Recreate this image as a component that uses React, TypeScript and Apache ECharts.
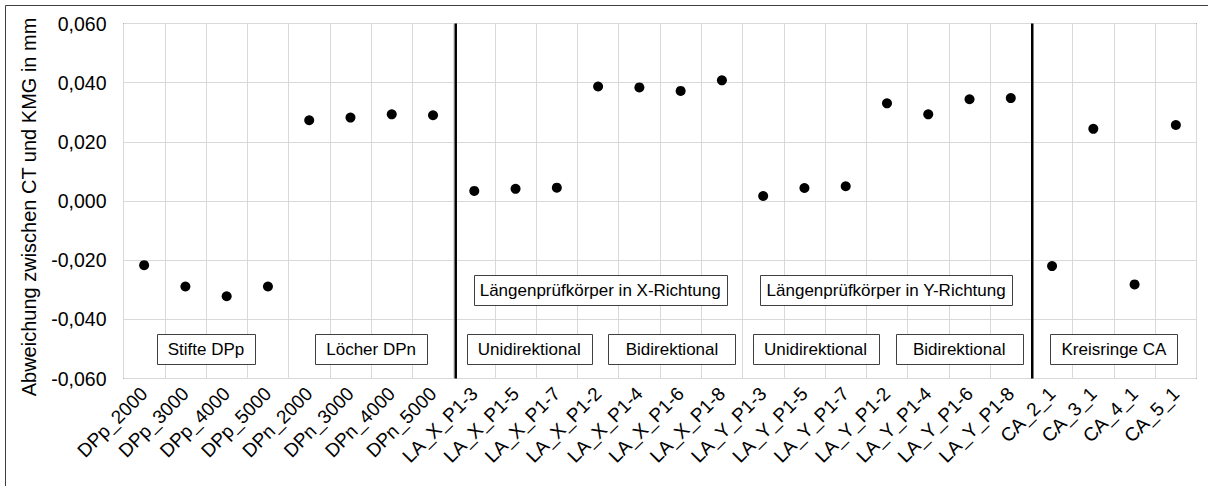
import React, { useEffect, useRef } from "react";
import * as echarts from "echarts";

// Measurement points (x axis categories)
const categories = [
  "DPp_2000", "DPp_3000", "DPp_4000", "DPp_5000",
  "DPn_2000", "DPn_3000", "DPn_4000", "DPn_5000",
  "LA_X_P1-3", "LA_X_P1-5", "LA_X_P1-7",
  "LA_X_P1-2", "LA_X_P1-4", "LA_X_P1-6", "LA_X_P1-8",
  "LA_Y_P1-3", "LA_Y_P1-5", "LA_Y_P1-7",
  "LA_Y_P1-2", "LA_Y_P1-4", "LA_Y_P1-6", "LA_Y_P1-8",
  "CA_2_1", "CA_3_1", "CA_4_1", "CA_5_1",
];

// Deviation between CT and CMM in mm
const deviations = [
  -0.0217, -0.0289, -0.0322, -0.0289,
  0.0273, 0.0282, 0.0293, 0.029,
  0.0034, 0.0041, 0.0045,
  0.0387, 0.0384, 0.0372, 0.0408,
  0.0017, 0.0044, 0.005,
  0.033, 0.0293, 0.0344, 0.0348,
  -0.022, 0.0244, -0.0282, 0.0257,
];

// Category counts after which a new specimen group starts
const groupBoundaries = [8.05, 22.02];

// Group captions, anchored in axis units (x: category slots, y: mm)
const captions = [
  { text: "Stifte DPp", x: 2, y: -0.05, w: 98 },
  { text: "Löcher DPn", x: 6, y: -0.05, w: 112 },
  { text: "Längenprüfkörper in X-Richtung", x: 11.55, y: -0.03, w: 253 },
  { text: "Unidirektional", x: 9.83, y: -0.05, w: 125 },
  { text: "Bidirektional", x: 13.29, y: -0.05, w: 127 },
  { text: "Längenprüfkörper in Y-Richtung", x: 18.48, y: -0.03, w: 252 },
  { text: "Unidirektional", x: 16.77, y: -0.05, w: 126 },
  { text: "Bidirektional", x: 20.25, y: -0.05, w: 127 },
  { text: "Kreisringe CA", x: 24, y: -0.05, w: 127 },
];

const FONT = "'Liberation Sans', Arial, sans-serif";

export default function App() {
  const ref = useRef<HTMLDivElement>(null);

  useEffect(() => {
    if (!ref.current) return;
    const chart = echarts.init(ref.current, null, { renderer: "svg" });

    const fmt = (v: number) =>
      (Math.abs(v) < 1e-9 ? 0 : v).toFixed(3).replace(".", ",");

    chart.setOption({
      animation: false,
      backgroundColor: "#fff",
      textStyle: { fontFamily: FONT },
      grid: {
        left: 123.5,
        top: 23.5,
        right: 11.5,
        bottom: 107.5,
        show: true,
        borderColor: "#000",
        borderWidth: 1,
        backgroundColor: "transparent",
      },
      xAxis: [
        {
          type: "category",
          data: categories,
          boundaryGap: true,
          axisLine: { show: false },
          axisTick: { show: false },
          splitLine: {
            show: true,
            interval: 0,
            lineStyle: { color: "#d9d9d9", width: 1 },
          },
          axisLabel: {
            interval: 0,
            rotate: 45,
            margin: 12,
            fontSize: 19,
            color: "#000",
            fontFamily: FONT,
          },
        },
        {
          type: "value",
          min: 0,
          max: categories.length,
          show: false,
        },
      ],
      yAxis: {
        type: "value",
        min: -0.06,
        max: 0.06,
        interval: 0.02,
        name: "Abweichung zwischen CT und KMG in mm",
        nameLocation: "middle",
        nameGap: 85,
        nameTextStyle: {
          fontSize: 20,
          color: "#000",
          fontFamily: FONT,
          padding: [0, 12, 0, 0],
        },
        axisLine: { show: false },
        axisTick: { show: false },
        splitLine: { lineStyle: { color: "#d9d9d9", width: 1 } },
        axisLabel: {
          formatter: fmt,
          fontSize: 19.5,
          color: "#000",
          margin: 17,
          fontFamily: FONT,
        },
      },
      series: [
        {
          type: "scatter",
          xAxisIndex: 0,
          data: deviations,
          symbol: "circle",
          symbolSize: 10,
          itemStyle: { color: "#000", opacity: 1 },
          z: 5,
        },
        ...groupBoundaries.map((b) => ({
          type: "line",
          xAxisIndex: 1,
          data: [
            [b, -0.06],
            [b, 0.06],
          ],
          symbol: "none",
          lineStyle: { color: "#000", width: 2.5 },
          z: 4,
        })),
      ],
    });

    // Caption boxes placed through the hidden value x axis
    const elements: any[] = [
      {
        type: "rect",
        shape: { x: 5.5, y: 5.5, width: 1300, height: 600 },
        style: { fill: "none", stroke: "#404040", lineWidth: 1 },
        silent: true,
        z: 0,
      },
    ];
    captions.forEach((c) => {
      const p = chart.convertToPixel({ xAxisIndex: 1, yAxisIndex: 0 }, [c.x, c.y]) as number[];
      const h = 30;
      elements.push({
        type: "rect",
        shape: { x: Math.round(p[0] - c.w / 2) + 0.5, y: Math.round(p[1] - h / 2) + 0.5, width: c.w, height: h },
        style: { fill: "#fff", stroke: "#404040", lineWidth: 1 },
        z: 10,
      });
      elements.push({
        type: "text",
        x: p[0],
        y: p[1] + 1,
        style: {
          text: c.text,
          align: "center",
          verticalAlign: "middle",
          fontSize: 17,
          fontFamily: FONT,
          fill: "#000",
        },
        z: 11,
      });
    });
    chart.setOption({ graphic: elements });

    return () => chart.dispose();
  }, []);

  return (
    <div
      ref={ref}
      style={{ position: "fixed", left: 0, top: 0, width: 1208, height: 486 }}
    />
  );
}
